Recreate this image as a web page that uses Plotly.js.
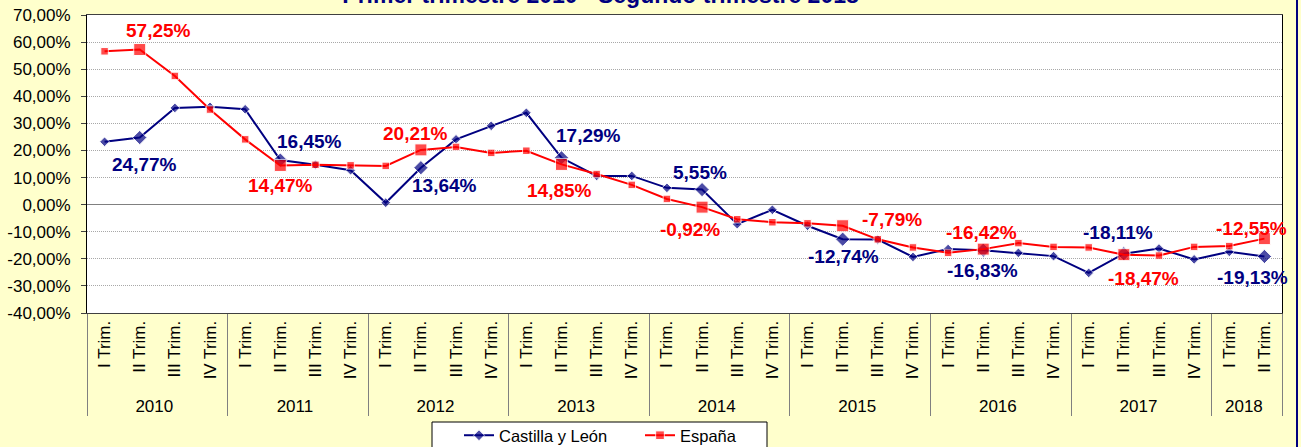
<!DOCTYPE html>
<html>
<head>
<meta charset="utf-8">
<script src="https://cdn.plot.ly/plotly-3.0.1.min.js"></script>
<style>html,body{margin:0;padding:0;background:#FFFFCC;}</style>
</head>
<body>
<div id="chart" style="width:1301px;height:447px;"></div>
<script>
// ---- Data ----
const years = ['2010','2011','2012','2013','2014','2015','2016','2017','2018'];
const quarters = ['I Trim.','II Trim.','III Trim.','IV Trim.'];
const nPoints = 34;
const seriesNames = ['Castilla y León','España'];
const castillaLeon = [
  23.2, 24.77, 35.7, 36.1,
  35.2, 16.45, 14.7, 12.7,
  0.7, 13.64, 24.1, 29.1,
  33.9, 17.29, 10.6, 10.6,
  6.2, 5.55, -7.2, -1.9,
  -7.8, -12.74, -12.9, -19.3,
  -16.4, -16.83, -17.8, -19.0,
  -25.2, -18.11, -16.2, -20.2,
  -17.4, -19.13
];
const espana = [
  56.6, 57.25, 47.5, 35.1,
  24.1, 14.47, 14.7, 14.5,
  14.3, 20.21, 21.3, 19.1,
  19.9, 14.85, 11.3, 7.3,
  2.1, -0.92, -5.4, -6.5,
  -6.9, -7.79, -12.8, -15.8,
  -17.8, -16.42, -14.2, -15.6,
  -15.8, -18.47, -18.8, -15.6,
  -15.3, -12.55
];
const yTickValues = [-40,-30,-20,-10,0,10,20,30,40,50,60,70];
const highlightQuarter = 'II Trim.';

// label offsets (px) for highlighted points, one per year
const offsetsCL = [[5,-27],[29,19],[24,-18],[27,22],[-2,17],[1,-17],[-1,-20],[-6,21],[-12,-21]];
const offsetsES = [[19,19],[0,-20],[-5,16],[-2,-26],[-12,-22],[49,6],[-2,17],[20,-24],[-13,10]];

// ---- Build ----
const xYears = [], xQuarters = [];
for (let i = 0; i < nPoints; i++) {
  xYears.push(years[Math.floor(i / quarters.length)]);
  xQuarters.push(quarters[i % quarters.length]);
}
const isHL = xQuarters.map(q => q === highlightQuarter);
const fmt = v => v.toFixed(2).replace('.', ',') + '%';
const BLUE = '#000080', RED = '#FF0000';
const FONT = 'Liberation Sans, Arial, sans-serif';

const traces = [
  {
    type: 'scatter', mode: 'lines+markers', name: seriesNames[0],
    x: [xYears, xQuarters], y: castillaLeon,
    line: {color: BLUE, width: 2},
    marker: {symbol: 'diamond', color: BLUE, size: isHL.map(h => h ? 11 : 7.5)}
  },
  {
    type: 'scatter', mode: 'lines+markers', name: seriesNames[1],
    x: [xYears, xQuarters], y: espana,
    line: {color: RED, width: 2},
    marker: {symbol: 'square', color: RED, size: isHL.map(h => h ? 12 : 7.5)}
  }
];

const annotations = [];
let k = 0;
for (let i = 0; i < nPoints; i++) {
  if (!isHL[i]) continue;
  annotations.push({x: i, y: castillaLeon[i], xref: 'x', yref: 'y', text: fmt(castillaLeon[i]),
    showarrow: false, xanchor: 'center', yanchor: 'middle',
    xshift: offsetsCL[k][0], yshift: offsetsCL[k][1],
    font: {family: FONT, size: 19, color: BLUE, weight: 700}});
  annotations.push({x: i, y: espana[i], xref: 'x', yref: 'y', text: fmt(espana[i]),
    showarrow: false, xanchor: 'center', yanchor: 'middle',
    xshift: offsetsES[k][0], yshift: offsetsES[k][1],
    font: {family: FONT, size: 19, color: RED, weight: 700}});
  k++;
}

const xRange = [-0.5, nPoints - 0.5];
const boundaries = [], innerBoundaries = [];
for (let i = 0; i <= nPoints; i++) {
  boundaries.push(i - 0.5);
  if (i % quarters.length !== 0 && i !== nPoints) innerBoundaries.push(i - 0.5);
}
const yMin = yTickValues[0], yMax = yTickValues[yTickValues.length - 1];

// plot area geometry (px) used to place legend box / border
const plotL = 87, plotW = 1195, plotT = 15, plotH = 298;
const px2x = p => (p - plotL) / plotW;
const px2y = p => (plotT + plotH - p) / plotH;

const layout = {
  width: 1301, height: 447,
  paper_bgcolor: '#FFFFCC', plot_bgcolor: '#FFFFFF',
  margin: {l: plotL, r: 1301 - plotL - plotW, t: plotT, b: 447 - plotT - plotH, autoexpand: false},
  font: {family: FONT, color: '#000'},
  separators: ',.',
  title: {
    text: 'Primer trimestre 2010 - Segundo trimestre 2018',
    font: {family: FONT, size: 23, color: BLUE, weight: 700},
    xref: 'container', x: 0.4616, xanchor: 'center',
    yref: 'paper', y: 1, yanchor: 'bottom', pad: {b: 12}
  },
  showlegend: true,
  legend: {
    orientation: 'h', x: px2x(459), xanchor: 'left', y: px2y(418), yanchor: 'top',
    bgcolor: 'rgba(0,0,0,0)', borderwidth: 0,
    entrywidth: 136, entrywidthmode: 'pixels',
    font: {family: FONT, size: 16.5, color: '#000'}
  },
  xaxis: {
    type: 'multicategory', range: xRange,
    tickangle: -90, tickfont: {family: FONT, size: 17, color: '#000'},
    showline: true, linecolor: '#404040', linewidth: 1, mirror: true,
    ticks: '', showgrid: false, zeroline: false,
    showdividers: true, dividercolor: '#808080', dividerwidth: 1
  },
  xaxis2: {
    overlaying: 'x', anchor: 'y', side: 'bottom', type: 'linear', range: xRange,
    tickmode: 'array', tickvals: innerBoundaries, ticks: 'outside', ticklen: 72,
    tickcolor: '#000', tickwidth: 1, showticklabels: false,
    showgrid: false, zeroline: false, showline: false
  },
  xaxis3: {
    overlaying: 'x', anchor: 'free', position: (0 - yMin) / (yMax - yMin), side: 'bottom',
    type: 'linear', range: xRange,
    tickmode: 'array', tickvals: boundaries, ticks: 'outside', ticklen: 6,
    tickcolor: '#808080', tickwidth: 1, showticklabels: false,
    showgrid: false, zeroline: false, showline: false
  },
  yaxis: {
    range: [yMin, yMax], tickmode: 'array', tickvals: yTickValues,
    ticktext: yTickValues.map(fmt),
    tickfont: {family: FONT, size: 17, color: '#000'},
    ticks: 'outside', ticklen: 5, tickcolor: '#404040', ticklabelstandoff: 7,
    showline: true, linecolor: '#000', linewidth: 1, mirror: true,
    showgrid: true, gridcolor: '#A8A8A8', griddash: '1px,1px', gridwidth: 1,
    zeroline: true, zerolinecolor: '#808080', zerolinewidth: 1.5
  },
  annotations: annotations,
  shapes: [
    {type: 'line', xref: 'paper', yref: 'paper', x0: px2x(1297), x1: px2x(1297), y0: -0.6, y1: 1.2,
     line: {color: BLUE, width: 2}},
    {type: 'rect', xref: 'paper', yref: 'paper', x0: px2x(432), x1: px2x(767), y0: px2y(422), y1: px2y(460),
     fillcolor: '#FFFFFF', line: {color: '#000000', width: 1}, layer: 'below'}
  ]
};

Plotly.newPlot('chart', traces, layout, {displayModeBar: false, staticPlot: true});
</script>
</body>
</html>
